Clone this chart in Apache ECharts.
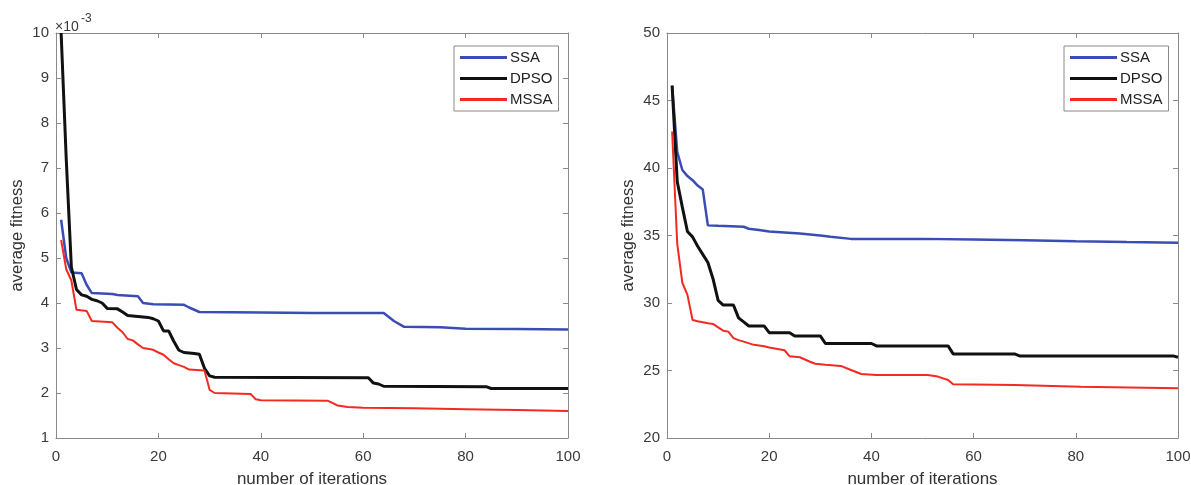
<!DOCTYPE html>
<html>
<head>
<meta charset="utf-8">
<script src="https://cdn.jsdelivr.net/npm/echarts@6/dist/echarts.min.js"></script>
<style>html,body{margin:0;padding:0;background:#fff}#c{width:1191px;height:485px}</style>
</head>
<body>
<div id="c"></div>
<script>
// Left panel (values in units of 1e-3): [iteration, average fitness]
const leftSSA = [[1,5.85],[2,5.0],[3,4.68],[5,4.66],[6,4.4],[7,4.22],[11,4.2],[12,4.18],[16,4.15],[17,4.0],[19,3.97],[25,3.96],[26,3.9],[28,3.8],[40,3.79],[50,3.78],[64,3.78],[66,3.6],[68,3.47],[75,3.46],[80,3.43],[90,3.42],[100,3.41]];
const leftDPSO = [[1,10],[2,7.2],[3,4.8],[4,4.3],[5,4.18],[6,4.15],[7,4.08],[8,4.05],[9,4.0],[10,3.88],[12,3.87],[13,3.8],[14,3.72],[18,3.68],[19,3.65],[20,3.6],[21,3.38],[22,3.38],[23,3.15],[24,2.95],[25,2.9],[27,2.88],[28,2.86],[29,2.55],[30,2.38],[31,2.35],[61,2.34],[62,2.22],[63,2.2],[64,2.15],[84,2.14],[85,2.1],[100,2.1]];
const leftMSSA = [[1,5.4],[2,4.75],[3,4.5],[4,3.85],[6,3.82],[7,3.6],[11,3.57],[12,3.45],[13,3.35],[14,3.2],[15,3.17],[16,3.08],[17,3.0],[19,2.96],[20,2.9],[21,2.85],[22,2.75],[23,2.66],[24,2.62],[25,2.58],[26,2.52],[29,2.5],[30,2.07],[31,2.0],[38,1.98],[39,1.86],[40,1.84],[53,1.83],[54,1.78],[55,1.72],[57,1.69],[60,1.67],[70,1.66],[80,1.64],[90,1.62],[100,1.6]];

// Right panel: [iteration, average fitness]
const rightSSA = [[1,46.1],[2,41.2],[3,39.85],[4,39.4],[5,39.1],[6,38.7],[7,38.4],[8,35.75],[10,35.72],[15,35.65],[16,35.5],[18,35.4],[20,35.3],[26,35.15],[30,35.0],[32,34.9],[36,34.75],[50,34.75],[60,34.7],[70,34.65],[80,34.58],[90,34.52],[100,34.47]];
const rightDPSO = [[1,46.1],[2,39.0],[3,37.1],[4,35.3],[5,34.9],[6,34.2],[7,33.6],[8,33.0],[9,31.8],[10,30.2],[11,29.85],[13,29.85],[14,28.9],[15,28.6],[16,28.3],[19,28.3],[20,27.8],[24,27.8],[25,27.56],[30,27.56],[31,27.0],[40,27.0],[41,26.82],[55,26.82],[56,26.23],[68,26.23],[69,26.08],[99,26.08],[100,25.98]];
const rightMSSA = [[1,42.7],[2,34.4],[3,31.5],[4,30.6],[5,28.74],[6,28.65],[8,28.5],[9,28.45],[10,28.2],[11,27.95],[12,27.88],[13,27.4],[14,27.25],[15,27.14],[17,26.9],[19,26.8],[20,26.7],[23,26.5],[24,26.05],[26,25.98],[28,25.65],[29,25.5],[31,25.42],[34,25.34],[36,25.04],[38,24.74],[41,24.67],[51,24.67],[53,24.55],[55,24.3],[56,23.98],[68,23.93],[81,23.8],[100,23.68]];

const seriesNames = ['SSA','DPSO','MSSA'];
const xLabel = 'number of iterations';
const yLabel = 'average fitness';

const FONT = 'Liberation Sans, Arial, sans-serif';
const AXC = '#8a8a8a';
const TXT = '#3a3a3a';
const colors = {SSA:'#3a4db5', DPSO:'#111111', MSSA:'#f22a22'};
const widths = {SSA:2.5, DPSO:3, MSSA:2};

function xAx(grid, pos, labels){
  return {type:'value', gridIndex:grid, position:pos, min:0, max:100, interval:20,
    axisLine:{show:true, onZero:false, lineStyle:{color:AXC, width:1}},
    axisTick:{show:true, inside:true, length:5, lineStyle:{color:AXC}},
    axisLabel:{show:labels, color:TXT, fontSize:15, margin:11, fontFamily:FONT},
    splitLine:{show:false},
    name: labels ? xLabel : '', nameLocation:'middle', nameGap:33,
    nameTextStyle:{fontSize:17, color:'#333', fontFamily:FONT}};
}
function yAx(grid, pos, labels, min, max, interval){
  return {type:'value', gridIndex:grid, position:pos, min:min, max:max, interval:interval,
    axisLine:{show:true, onZero:false, lineStyle:{color:AXC, width:1}},
    axisTick:{show:true, inside:true, length:5, lineStyle:{color:AXC}},
    axisLabel:{show:labels, color:TXT, fontSize:15, margin:7, fontFamily:FONT},
    splitLine:{show:false},
    name: labels ? yLabel : '', nameLocation:'middle', nameGap:30,
    nameTextStyle:{fontSize:16.5, color:'#333', fontFamily:FONT}};
}
function ser(name, data, xi, yi){
  return {name:name, type:'line', data:data, xAxisIndex:xi, yAxisIndex:yi,
    symbol:'none', showSymbol:false, clip:true,
    lineStyle:{color:colors[name], width:widths[name]}, itemStyle:{color:colors[name]}};
}
function leg(left){
  return {left:left, top:46, orient:'vertical', data:seriesNames, itemWidth:47, itemHeight:14, itemGap:6,
    padding:[4,6,4,6], borderColor:'#888', borderWidth:1, backgroundColor:'#fff', selectedMode:false,
    icon:'path://M0,5.5 L47,5.5 L47,8.5 L0,8.5 Z', itemStyle:{borderWidth:0},
    textStyle:{fontSize:15, color:'#222', fontFamily:FONT, padding:[0,0,0,-2]}};
}

const chart = echarts.init(document.getElementById('c'), null, {renderer:'canvas'});
chart.setOption({
  animation:false,
  backgroundColor:'#fff',
  grid:[{left:56, top:33, width:512, height:405, containLabel:false, outerBoundsMode:'none'},
        {left:667, top:33, width:511, height:405, containLabel:false, outerBoundsMode:'none'}],
  xAxis:[xAx(0,'bottom',true), xAx(0,'top',false), xAx(1,'bottom',true), xAx(1,'top',false)],
  yAxis:[yAx(0,'left',true,1,10,1), yAx(0,'right',false,1,10,1), yAx(1,'left',true,20,50,5), yAx(1,'right',false,20,50,5)],
  legend:[leg(454), leg(1064)],
  graphic:[
    {type:'text', left:55, top:20, style:{text:'×10', fontSize:14, fill:TXT, fontFamily:FONT}},
    {type:'text', left:81, top:13, style:{text:'-3', fontSize:12, fill:TXT, fontFamily:FONT}}
  ],
  series:[
    ser('SSA', leftSSA, 0, 0), ser('DPSO', leftDPSO, 0, 0), ser('MSSA', leftMSSA, 0, 0),
    ser('SSA', rightSSA, 2, 2), ser('DPSO', rightDPSO, 2, 2), ser('MSSA', rightMSSA, 2, 2)
  ]
});
</script>
</body>
</html>
